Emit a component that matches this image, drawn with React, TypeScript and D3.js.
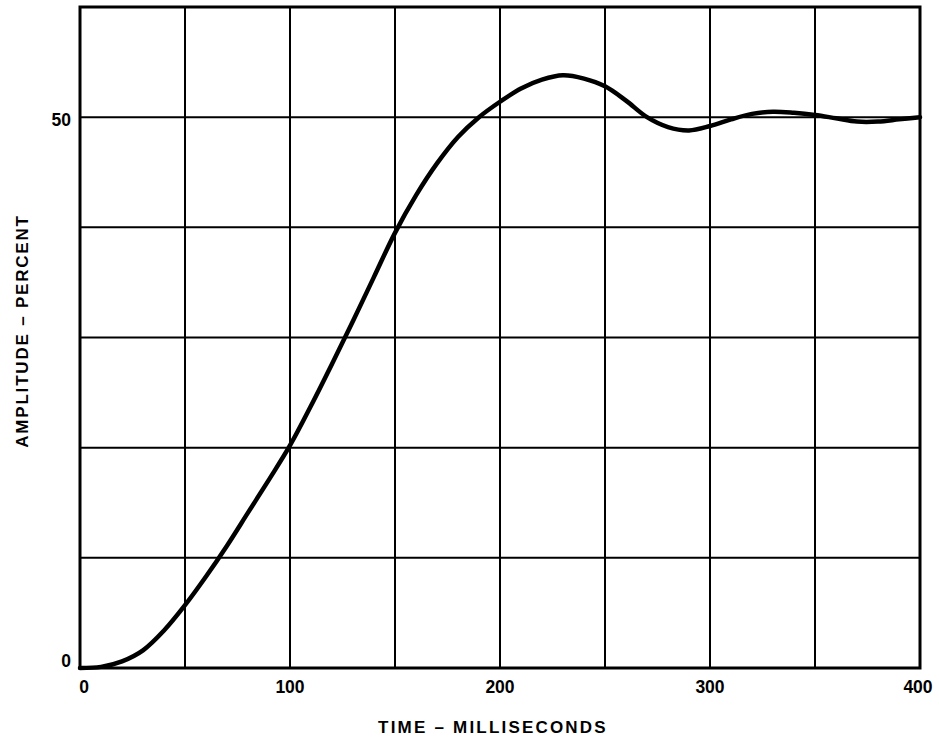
import React from "react";
import * as d3 from "d3";

const timeMs = [0, 10, 20, 30, 40, 50, 60, 70, 80, 90, 100, 110, 120, 130, 140, 150, 160, 170, 180, 190, 200, 210, 220, 230, 240, 250, 260, 270, 280, 290, 300, 310, 320, 330, 340, 350, 360, 370, 380, 390, 400];
const amplitude = [0, 0.1, 0.6, 1.6, 3.4, 5.7, 8.3, 11.1, 14.1, 17.1, 20.2, 23.8, 27.6, 31.5, 35.5, 39.5, 42.9, 45.8, 48.2, 50, 51.4, 52.6, 53.4, 53.8, 53.5, 52.8, 51.5, 50, 49.1, 48.8, 49.2, 49.8, 50.3, 50.5, 50.4, 50.2, 49.9, 49.6, 49.6, 49.8, 50];
const xGrid = [50, 100, 150, 200, 250, 300, 350];
const yGrid = [10, 20, 30, 40, 50];
const xTickLabels = [0, 100, 200, 300, 400];
const yTickLabels = [0, 50];

export default function App() {
  const W = 939, H = 745;
  const x = d3.scaleLinear().domain([0, 400]).range([80, 920]);
  const y = d3.scaleLinear().domain([0, 60]).range([668, 7]);
  const line = d3.line<number>()
    .x((_, i) => x(timeMs[i]))
    .y((d) => y(d))
    .curve(d3.curveCatmullRom.alpha(0.5));
  const font = "'Liberation Sans', Arial, sans-serif";
  return (
    <svg width={W} height={H} style={{ position: "absolute", left: 0, top: 0, background: "#fff" }}>
      {xGrid.map((v) => (
        <line key={"x" + v} x1={x(v)} x2={x(v)} y1={y(60)} y2={y(0)} stroke="#000" strokeWidth={2} />
      ))}
      {yGrid.map((v) => (
        <line key={"y" + v} x1={x(0)} x2={x(400)} y1={y(v)} y2={y(v)} stroke="#000" strokeWidth={2} />
      ))}
      <rect x={x(0)} y={y(60)} width={x(400) - x(0)} height={y(0) - y(60)} fill="none" stroke="#000" strokeWidth={3} />
      <path d={line(amplitude) || ""} fill="none" stroke="#000" strokeWidth={4.5} strokeLinejoin="round" strokeLinecap="round" />
      {xTickLabels.map((v) => (
        <text key={"xl" + v} x={x(v) + (v === 400 ? -2 : v === 0 ? 4 : 0)} y={693} textAnchor="middle" fontFamily={font} fontWeight="bold" fontSize={17.5} fill="#000">{v}</text>
      ))}
      {yTickLabels.map((v) => (
        <text key={"yl" + v} x={71} y={y(v) + (v === 0 ? -1 : 9)} textAnchor="end" fontFamily={font} fontWeight="bold" fontSize={17.5} fill="#000">{v}</text>
      ))}
      <text x={493} y={733} textAnchor="middle" fontFamily={font} fontWeight="bold" fontSize={17} letterSpacing={2.2} fill="#000">TIME – MILLISECONDS</text>
      <text transform="translate(28,331) rotate(-90)" textAnchor="middle" fontFamily={font} fontWeight="bold" fontSize={17} letterSpacing={1.8} fill="#000">AMPLITUDE – PERCENT</text>
    </svg>
  );
}
